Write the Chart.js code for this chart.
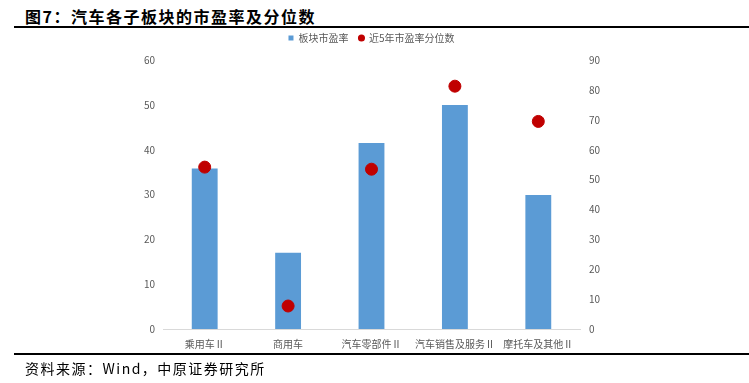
<!DOCTYPE html>
<html><head><meta charset="utf-8">
<script src="https://cdn.jsdelivr.net/npm/chart.js@4"></script>
<style>
html,body{margin:0;padding:0;background:#fff;width:749px;height:383px;overflow:hidden;font-family:"Noto Sans CJK SC",sans-serif;}
#title{position:absolute;left:25px;top:4px;font-size:16px;font-weight:bold;letter-spacing:1.5px;color:#000;white-space:nowrap;}
.rule{position:absolute;left:14px;width:735px;height:2px;background:#000;}
#src{position:absolute;left:25px;top:358px;font-size:14px;letter-spacing:1.5px;color:#000;white-space:nowrap;}
#wrap{position:absolute;left:0;top:27px;width:749px;height:334px;}
</style></head><body>
<div id="title">图7：汽车各子板块的市盈率及分位数</div>
<div class="rule" style="top:26px"></div>
<div id="wrap"><canvas id="c"></canvas></div>
<div class="rule" style="top:353px"></div>
<div id="src">资料来源：Wind，中原证券研究所</div>
<script>
const categories = ["乘用车Ⅱ","商用车","汽车零部件Ⅱ","汽车销售及服务Ⅱ","摩托车及其他Ⅱ"];
const peValues = [35.8, 17.0, 41.5, 50.0, 29.9];
const percentileValues = [54.2, 7.7, 53.5, 81.3, 69.5];
const leftTicks = [0,10,20,30,40,50,60];
const rightTicks = [0,10,20,30,40,50,60,70,80,90];

const tickFont = {family:'"Noto Sans CJK SC", sans-serif', size:10};
new Chart(document.getElementById('c'), {
  data: {
    labels: categories,
    datasets: [
      {type:'scatter', label:'近5年市盈率分位数', data: percentileValues, yAxisID:'y1', xAxisID:'x',
       backgroundColor:'#C00000', borderColor:'#C00000', pointRadius:6, pointHoverRadius:6, order:0, showLine:false},
      {type:'bar', label:'板块市盈率', data: peValues, yAxisID:'y', backgroundColor:'#5B9BD5',
       barPercentage:0.31, categoryPercentage:1, order:1}
    ]
  },
  options: {
    responsive:true, maintainAspectRatio:false, animation:false,
    layout:{padding:{left:143, right:149, top:0, bottom:2}},
    plugins:{
      subtitle:{display:true, text:'', weight:500, font:{size:1}, padding:{top:0,bottom:6}},
      legend:{position:'top', weight:1000,
        labels:{font:{family:'"Noto Sans CJK SC", sans-serif', size:10}, color:'#595959',
          boxWidth:5, boxHeight:5, padding:6, usePointStyle:true,
          generateLabels(chart){
            const ds = chart.data.datasets;
            return [1,0].map(i=>({text: i===1 ? ds[i].label + '  ' : ds[i].label, fillStyle:ds[i].backgroundColor, strokeStyle:ds[i].backgroundColor,
              lineWidth:0, pointStyle: ds[i].type==='bar'?'rect':'circle', datasetIndex:i, hidden:false, fontColor:'#595959'}));
          }}},
      tooltip:{enabled:false}
    },
    scales:{
      x:{type:'category', labels:categories, offset:true, grid:{display:false, drawTicks:false},
         border:{color:'#D9D9D9', width:1},
         ticks:{font:tickFont, color:'#595959', padding:9, maxRotation:0, autoSkip:false}},
      y:{position:'left', min:0, max:60, grid:{display:false, drawTicks:false}, border:{display:false},
         afterBuildTicks(s){ s.ticks = leftTicks.map(v=>({value:v})); },
         afterFit(s){ s.width = 20; },
         ticks:{font:tickFont, color:'#595959', padding:8}},
      y1:{position:'right', min:0, max:90, grid:{display:false, drawTicks:false}, border:{display:false},
         afterBuildTicks(s){ s.ticks = rightTicks.map(v=>({value:v})); },
         afterFit(s){ s.width = 20; },
         ticks:{font:tickFont, color:'#595959', padding:9}}
    }
  }
});
</script>
</body></html>
